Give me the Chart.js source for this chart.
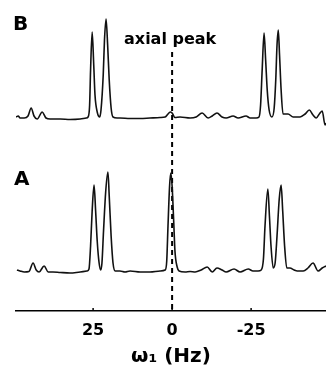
<!DOCTYPE html>
<html>
<head>
<meta charset="utf-8">
<script src="https://cdn.jsdelivr.net/npm/chart.js@4/dist/chart.umd.min.js"></script>
<style>
  html, body { margin: 0; padding: 0; background: #fff; }
  canvas { display: block; }
</style>
</head>
<body>
<canvas id="c" width="326" height="372"></canvas>
<script>
// ---- Data (frequency in Hz, intensity in arbitrary units) ----
const freqB = [49.4,48.7,48.1,46.8,45.6,44.6,43.7,42.7,41.1,39.9,38.6,35.4,32.3,29.1,27.2,26.6,26.1,25.8,25.3,24.8,24.4,23.7,22.9,22.5,21.8,21.4,20.9,20.4,19.9,19.3,18.7,17.4,16.5,13.3,10.1,7.0,3.8,2.2,1.3,0.6,0,-0.9,-2.5,-5.7,-7.6,-9.5,-11.4,-12.7,-14.2,-15.8,-17.1,-19.3,-20.9,-23.4,-24.7,-26.6,-27.5,-28.0,-28.5,-29.1,-29.6,-30.1,-30.7,-31.6,-32.3,-32.8,-33.2,-33.6,-34.0,-34.5,-35.1,-36.7,-38.3,-40.5,-42.1,-43.4,-44.6,-45.6,-46.8,-47.5,-48.4,-48.7];
const intB  = [0,1,-1,-1,1,9,1,-2,5,-1,-2,-2,-2.5,-2,-1,0,12,47,85,52,22,5,0,7,42,77,98,72,37,9,0,-1,-1,-1.5,-1.5,-1,-0.5,0,3,5,4,-0.5,0,-1,0,4,-1,1,4,0,-1,1,-1,1,-1,-1,0,12,47,84,57,27,7,0,9,37,72,87,62,27,3,3,0,0,3,7,2,-1,4,6,-8,-6];

const freqA = [49.1,48.1,46.8,45.3,44.0,43.0,42.1,40.5,39.2,37.7,35.4,32.3,29.1,26.9,26.3,25.8,25.3,24.7,24.2,23.7,23.1,22.6,22.2,21.7,21.0,20.3,19.9,19.3,18.7,18.0,16.5,14.9,13.3,10.1,7.0,3.8,2.2,1.7,1.3,0.8,0.4,0,-0.5,-0.9,-1.6,-2.2,-4.1,-5.7,-7.3,-9.2,-11.1,-12.7,-14.2,-15.8,-17.1,-19.6,-21.5,-24.1,-25.6,-27.2,-28.2,-28.9,-29.4,-30.3,-30.8,-31.3,-32.0,-32.6,-33.2,-33.9,-34.5,-35.0,-35.6,-36.3,-37.3,-38.6,-39.6,-41.5,-43.0,-44.6,-46.2,-47.5,-48.7];
const intA  = [1,0,-1,-0.5,8,1,-1,5,-1,-1,-1.5,-2,-1,0,2,25,60,86,60,30,8,1,8,40,80,99,75,35,8,0,0,-1,0,-1,-1,0,1,10,45,85,98,85,50,20,4,0,-1,-0.5,-1,1,4,-1,3,1,-1,2,-1,2,0,0,1,12,45,82,55,25,3,8,35,72,86,60,25,3,3,1,0,0,3,8,0,3,5];

const offsetB = 154;          // vertical stacking offset of trace B
const axialHz = 0;            // position of the axial peak marker
const markerTop = 219;        // top of the dashed marker (intensity units)
const tickValues = [25, 0, -25];
const xTitle = "ω₁ (Hz)";
const labelA = "A", labelB = "B", axialLabel = "axial peak";

const FONT = "'DejaVu Sans', 'Liberation Sans', sans-serif";

const traceA = freqA.map((f, i) => ({ x: f, y: intA[i] }));
const traceB = freqB.map((f, i) => ({ x: f, y: intB[i] + offsetB }));
const marker = [{ x: axialHz, y: markerTop }, { x: axialHz, y: -40 }];

const annotate = {
  id: 'annotate',
  afterDraw(chart) {
    const { ctx, scales: { x, y }, chartArea } = chart;
    ctx.save();
    ctx.fillStyle = '#000';
    ctx.textBaseline = 'middle';
    ctx.font = "bold 16px " + FONT;
    ctx.textAlign = 'center';
    ctx.fillText(axialLabel, x.getPixelForValue(axialHz) - 2, y.getPixelForValue(231));
    ctx.font = "bold 20px " + FONT;
    ctx.textAlign = 'left';
    ctx.fillText(labelB, chartArea.left - 3, y.getPixelForValue(246));
    ctx.fillText(labelA, chartArea.left - 2, y.getPixelForValue(91));
    // small upward tick marks on the axis
    ctx.strokeStyle = '#000';
    ctx.lineWidth = 1.5;
    const yb = chartArea.bottom;
    tickValues.forEach(v => {
      const px = x.getPixelForValue(v);
      ctx.beginPath();
      ctx.moveTo(px, yb);
      ctx.lineTo(px, yb - 3);
      ctx.stroke();
    });
    ctx.restore();
  }
};

const traceStyle = { borderColor: '#111', borderWidth: 1.6, pointRadius: 0, cubicInterpolationMode: 'monotone', fill: false };

new Chart(document.getElementById('c'), {
  type: 'line',
  data: {
    datasets: [
      Object.assign({ data: traceB }, traceStyle),
      Object.assign({ data: traceA }, traceStyle),
      { data: marker, borderColor: '#000', borderWidth: 2, borderDash: [5, 4], pointRadius: 0, fill: false }
    ]
  },
  options: {
    responsive: false,
    animation: false,
    devicePixelRatio: 1,
    layout: { padding: { top: 11, left: 16, right: 0, bottom: 0 } },
    plugins: { legend: { display: false }, tooltip: { enabled: false } },
    scales: {
      x: {
        type: 'linear',
        reverse: true,
        min: -48.7,
        max: 49.4,
        afterBuildTicks(scale) { scale.ticks = tickValues.map(v => ({ value: v })); },
        afterFit(scale) { scale.height = 61; },
        grid: { display: false, drawTicks: false },
        border: { display: true, color: '#000', width: 1.5 },
        ticks: {
          color: '#000',
          padding: 10,
          maxRotation: 0,
          font: { family: FONT, size: 16, weight: 'bold' },
          callback: v => String(v)
        },
        title: {
          display: true,
          text: xTitle,
          color: '#000',
          padding: { top: 0, bottom: 3 },
          font: { family: FONT, size: 20, weight: 'bold' }
        }
      },
      y: { display: false, min: -40, max: 260 }
    }
  },
  plugins: [annotate]
});
</script>
</body>
</html>
